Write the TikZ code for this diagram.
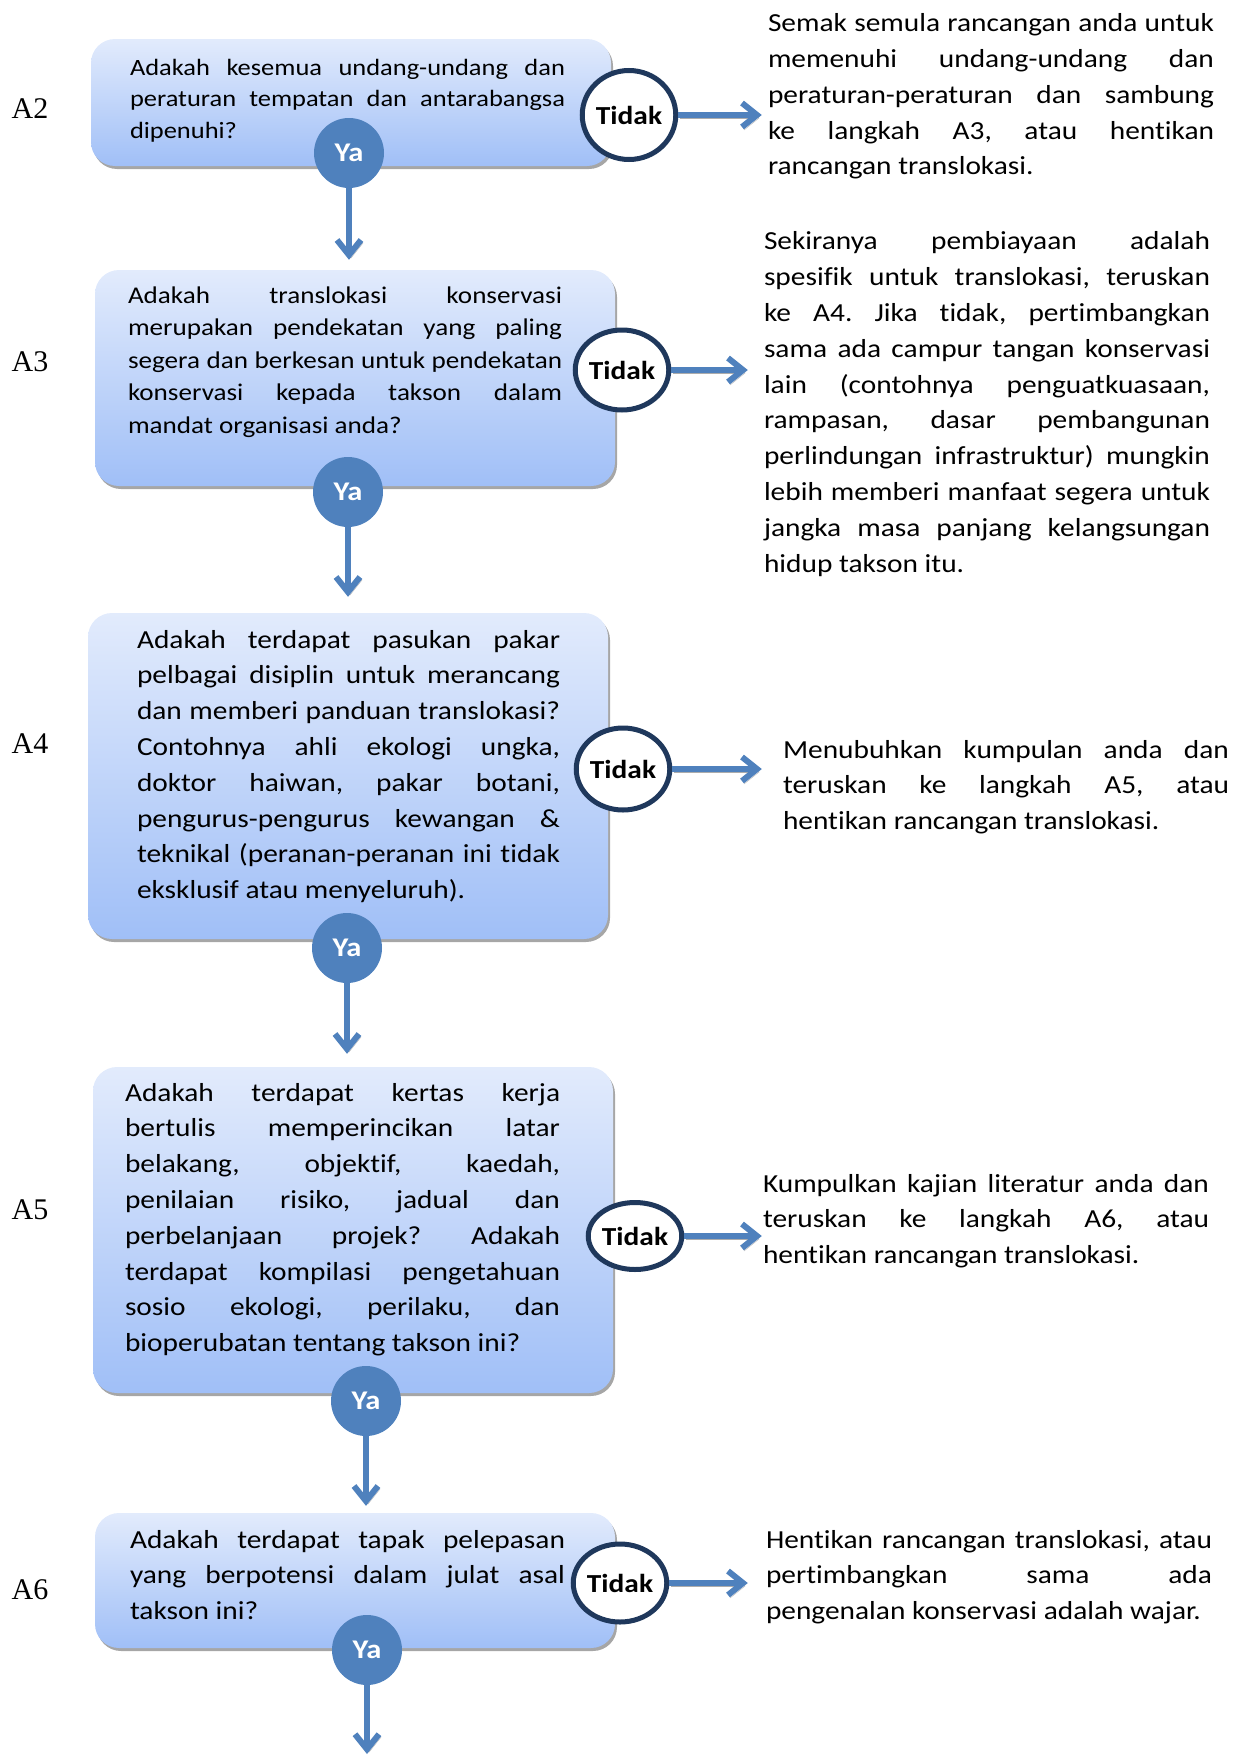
\documentclass[tikz,border=0pt]{standalone}
\usepackage{fontspec}
\setmainfont{Carlito}[FakeStretch=1.13, Ligatures={NoCommon,NoContextual}]
\newfontfamily\stepfont{Liberation Serif}
\usetikzlibrary{arrows.meta,shapes.geometric,shadows}
\definecolor{yablue}{RGB}{79,129,189}
\definecolor{tidakrim}{RGB}{31,56,92}
\definecolor{boxtop}{RGB}{226,235,252}
\definecolor{boxbot}{RGB}{160,191,247}
\hyphenpenalty=10000
\exhyphenpenalty=10000
\tolerance=9999
\frenchspacing
% Word-like justification: spaces may stretch but never shrink
\newcommand\wordsize[2]{\fontsize{#1}{#2}\selectfont\fontdimen4\font=0pt}
\newcommand\tightspaces{\spaceskip=\fontdimen2\font plus \fontdimen3\font minus .3\fontdimen2\font}

\begin{document}
\begin{tikzpicture}[x=1pt,y=-1pt]
		\tikzstyle{every node}+=[inner sep=0pt]
		\tikzstyle{qbox}=[rounded corners=24pt, top color=boxtop, bottom color=boxbot, minimum width=520pt, drop shadow={shadow xshift=2pt, shadow yshift=-3pt, fill=gray!70, opacity=1}]
		\tikzstyle{qtext}=[text width=435pt, align=justify, font=\wordsize{26}{35.8}]
		\tikzstyle{rtext}=[text width=446pt, align=justify, font=\wordsize{26}{35.8}]
		\tikzstyle{ya}=[circle, fill=yablue, minimum size=70pt, text=white, font=\bfseries\fontsize{27}{27}\selectfont]
		\tikzstyle{tidak}=[ellipse, draw=tidakrim, line width=5pt, fill=white, font=\bfseries\fontsize{26}{26}\selectfont]
		\tikzstyle{flow}=[draw=yablue, line width=6pt, -{Straight Barb[length=15pt, width=24pt]}, preaction={draw=gray!65, transform canvas={shift={(2pt,-3pt)}}}]
		\tikzstyle{steplabel}=[font=\stepfont\fontsize{30}{30}\selectfont]
		\useasboundingbox (0,0) rectangle (1241,1756);
		% question boxes
		\node [qbox, minimum height=127pt] (b2) at (351,102.5) {};
		\node [qbox, minimum height=216pt] (b3) at (355,378) {};
		\node [qbox, minimum height=326pt] (b4) at (348,776) {};
		\node [qbox, minimum height=326pt] (b5) at (353,1230) {};
		\node [qbox, minimum height=135pt] (b6) at (355,1580.5) {};
		\node [qtext, font=\wordsize{23.4}{31.4}] (q2) at (347.5,100.5) {Adakah kesemua undang-undang dan peraturan tempatan dan antarabangsa dipenuhi?};
		\node [qtext, text width=434pt, font=\wordsize{24}{32.5}] (q3) at (345,362) {Adakah translokasi konservasi merupakan pendekatan yang paling segera dan berkesan untuk pendekatan konservasi kepada takson dalam mandat organisasi anda?};
		\node [qtext, text width=423pt] (q4) at (348.5,766.5) {Adakah terdapat pasukan pakar pelbagai disiplin untuk merancang dan memberi panduan translokasi? Contohnya ahli ekologi ungka, doktor haiwan, pakar botani, pengurus-pengurus kewangan \& teknikal (peranan-peranan ini tidak eksklusif atau menyeluruh).};
		\node [qtext] (q5) at (342.5,1219.5) {Adakah terdapat kertas kerja bertulis memperincikan latar belakang, objektif, kaedah, penilaian risiko, jadual dan perbelanjaan projek? Adakah terdapat kompilasi pengetahuan sosio ekologi, perilaku, dan bioperubatan tentang takson ini?};
		\node [qtext] (q6) at (347.5,1575) {Adakah terdapat tapak pelepasan yang berpotensi dalam julat asal takson ini?};
		% step labels
		\node [steplabel] (l2) at (30,109) {A2};
		\node [steplabel] (l3) at (30,362) {A3};
		\node [steplabel] (l4) at (30,744) {A4};
		\node [steplabel] (l5) at (30,1210) {A5};
		\node [steplabel] (l6) at (30,1590) {A6};
		% answers for Tidak
		\node [rtext] (r2) at (991,96.6) {Semak semula rancangan anda untuk memenuhi undang-undang dan peraturan-peraturan dan sambung\linebreak ke langkah A3, atau hentikan rancangan translokasi.};
		\node [rtext] (r3) at (987,404) {Sekiranya pembiayaan adalah spesifik untuk translokasi, teruskan ke A4. Jika tidak, pertimbangkan sama ada campur tangan konservasi lain (contohnya penguatkuasaan, rampasan, dasar pembangunan perlindungan infrastruktur) mungkin lebih memberi manfaat segera untuk jangka masa panjang kelangsungan hidup takson itu.};
		\node [rtext] (r4) at (1006,787) {Menubuhkan kumpulan anda dan teruskan ke langkah A5, atau hentikan rancangan translokasi.};
		\node [rtext] (r5) at (986,1221) {\tightspaces Kumpulkan kajian literatur anda dan\linebreak teruskan ke langkah A6, atau\linebreak hentikan rancangan translokasi.};
		\node [rtext] (r6) at (989,1577) {\tightspaces Hentikan rancangan translokasi, atau\linebreak pertimbangkan sama ada\linebreak pengenalan konservasi adalah wajar.};
		% decision circles
		\node [tidak, minimum width=83pt, minimum height=89pt] (t2) at (629,115) {Tidak};
		\node [tidak, minimum width=82pt, minimum height=80pt] (t3) at (622,370) {Tidak};
		\node [tidak, minimum width=87pt, minimum height=82pt] (t4) at (623,769) {Tidak};
		\node [tidak, minimum width=82pt, minimum height=67pt] (t5) at (635,1236) {Tidak};
		\node [tidak, minimum width=85pt, minimum height=78pt] (t6) at (620,1583) {Tidak};
		\node [ya] (y2) at (349,153) {Ya};
		\node [ya] (y3) at (348,492) {Ya};
		\node [ya] (y4) at (347,948) {Ya};
		\node [ya] (y5) at (366,1401) {Ya};
		\node [ya] (y6) at (367,1650) {Ya};
		\coordinate (out) at (367,1754);
		% Tidak arrows
		\draw [flow, shorten >=6pt] (t2) -- (t2 -| r2.west);
		\draw [flow, shorten >=16pt] (t3) -- (t3 -| r3.west);
		\draw [flow, shorten >=21pt] (t4) -- (t4 -| r4.west);
		\draw [flow, shorten >=1pt] (t5) -- (t5 -| r5.west);
		\draw [flow, shorten >=18pt] (t6) -- (t6 -| r6.west);
		% Ya arrows
		\draw [flow, shorten >=10pt] (y2) -- (y2 |- b3.north);
		\draw [flow, shorten >=16pt] (y3) -- (y3 |- b4.north);
		\draw [flow, shorten >=13pt] (y4) -- (y4 |- b5.north);
		\draw [flow, shorten >=7pt] (y5) -- (y5 |- b6.north);
		\draw [flow] (y6) -- (out);
\end{tikzpicture}
\end{document}
